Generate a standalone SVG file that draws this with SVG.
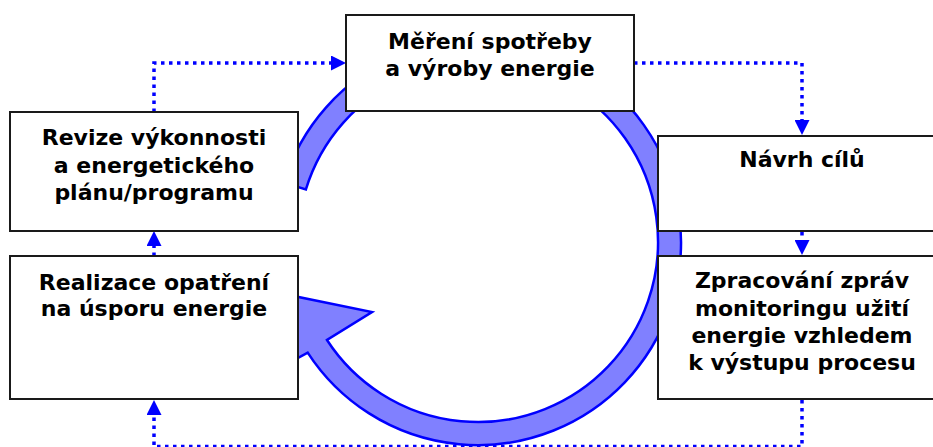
<svg xmlns="http://www.w3.org/2000/svg" width="933" height="447" viewBox="0 0 933 447">
<style>
.box{fill:#fff;stroke:#1a1a1a;stroke-width:2}
.t{font-family:"DejaVu Sans",Verdana,sans-serif;font-weight:bold;font-size:22px;fill:#000;text-anchor:middle}
.c{fill:none;stroke:#0000ff;stroke-width:3.5;stroke-dasharray:3.5 4.5;marker-end:url(#ah)}
.ring{fill:#8080ff;stroke:#0000ff;stroke-width:2.5;stroke-linejoin:miter}
</style>
<defs>
<marker id="ah" viewBox="0 0 15 15" refX="0" refY="7.5" markerWidth="15" markerHeight="15" markerUnits="userSpaceOnUse" orient="auto">
<path d="M0,0 L15,7.5 L0,15 Z" fill="#0000ff"/>
</marker>
</defs>
<rect width="933" height="447" fill="#fff"/>
<g id="cycle">
<path class="ring" d="M283.9,182.6 A203,203 0 1 1 307.7,352.6 L265,376 L235,284 L372,312 L327,340 A180,180 0 1 0 305.9,189.4 Z"/>
</g>
<g id="connectors">
<path class="c" d="M154,112 V63 H331"/>
<path class="c" d="M634,63 H802 V120"/>
<path class="c" d="M802,232 V240"/>
<path class="c" d="M802,400 V446.5 H154 V415"/>
<path class="c" d="M154,256 V246"/>
</g>
<g id="mereni">
<rect class="box" x="346" y="15" width="288" height="96"/>
<text class="t" x="490" y="49">Měření spotřeby</text>
<text class="t" x="490" y="76">a výroby energie</text>
</g>
<g id="revize">
<rect class="box" x="10" y="112" width="288" height="119"/>
<text class="t" x="154" y="145">Revize výkonnosti</text>
<text class="t" x="154" y="172.5">a energetického</text>
<text class="t" x="154" y="200">plánu/programu</text>
</g>
<g id="realizace">
<rect class="box" x="10" y="256" width="288" height="143"/>
<text class="t" x="154" y="290">Realizace opatření</text>
<text class="t" x="154" y="316">na úsporu energie</text>
</g>
<g id="navrh">
<rect class="box" x="658" y="136" width="288" height="95"/>
<text class="t" x="802" y="167">Návrh cílů</text>
</g>
<g id="zpracovani">
<rect class="box" x="658" y="256" width="288" height="143"/>
<text class="t" x="802" y="288">Zpracování zpráv</text>
<text class="t" x="802" y="315.5">monitoringu užití</text>
<text class="t" x="802" y="343">energie vzhledem</text>
<text class="t" x="802" y="370">k výstupu procesu</text>
</g>
</svg>
